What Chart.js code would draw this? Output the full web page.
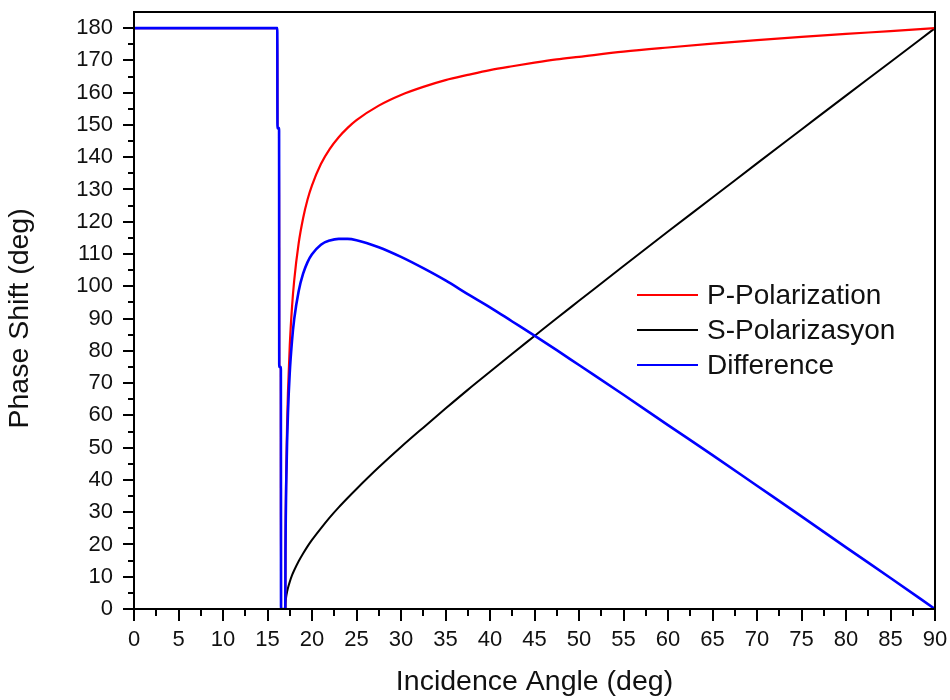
<!DOCTYPE html>
<html>
<head>
<meta charset="utf-8">
<script src="https://cdn.jsdelivr.net/npm/chart.js@4.4.0/dist/chart.umd.min.js"></script>
<style>
  html, body { margin: 0; padding: 0; background: #fff; }
  canvas { display: block; }
</style>
</head>
<body>
<canvas id="c" width="950" height="700"></canvas>
<script>
// Incidence angle (deg)
const angles = [0, 16.1, 16.12, 16.3, 16.32, 16.5, 16.52, 17.0, 17.02, 17.05, 17.1, 17.2, 17.3, 17.5, 17.75, 18, 18.5, 19, 19.5, 20, 21, 22, 23, 24, 25, 27.5, 30, 32.5, 35, 37.5, 40, 42.5, 45, 47.5, 50, 55, 60, 65, 70, 75, 80, 85, 90];
// Phase shifts (deg)
const pPolarization = [180, 180, 149, 149, 75, 75, 0, 0, 19.4, 30.3, 41.9, 57.0, 67.3, 81.6, 93.4, 101.8, 113.3, 121.1, 126.9, 131.3, 137.9, 142.6, 146.2, 149.1, 151.5, 156.0, 159.3, 161.8, 163.9, 165.5, 167.0, 168.2, 169.3, 170.3, 171.1, 172.7, 174.0, 175.2, 176.3, 177.3, 178.2, 179.1, 180];
const sPolarizasyon = [0, 0, 0, 0, 0, 0, 0, 0, 1.7, 2.7, 3.8, 5.3, 6.5, 8.4, 10.4, 12.0, 14.8, 17.2, 19.4, 21.4, 25.0, 28.4, 31.5, 34.4, 37.2, 43.9, 50.2, 56.2, 62.1, 67.9, 73.5, 79.1, 84.6, 90.1, 95.5, 106.3, 117.0, 127.5, 138.1, 148.6, 159.1, 169.5, 180];
const difference = [180, 180, 149, 149, 75, 75, 0, 0, 17.7, 27.6, 38.1, 51.7, 60.8, 73.2, 83.0, 89.8, 98.5, 103.9, 107.5, 109.9, 112.9, 114.2, 114.7, 114.7, 114.3, 112.1, 109.1, 105.6, 101.8, 97.6, 93.5, 89.1, 84.7, 80.2, 75.6, 66.4, 57.0, 47.7, 38.2, 28.7, 19.1, 9.6, 0];

// Tick labels
const xTicks = [0, 5, 10, 15, 20, 25, 30, 35, 40, 45, 50, 55, 60, 65, 70, 75, 80, 85, 90];
const yTicks = [0, 10, 20, 30, 40, 50, 60, 70, 80, 90, 100, 110, 120, 130, 140, 150, 160, 170, 180];

const seriesNames = ['P-Polarization', 'S-Polarizasyon', 'Difference'];
const seriesColors = ['#ff0000', '#000000', '#0000ff'];

const FONT = '"Liberation Sans", Arial, sans-serif';
const TXT = '#111111';

const toPts = arr => angles.map((a, i) => ({ x: a, y: arr[i] }));

const decor = {
  id: 'decor',
  afterDatasetsDraw(chart) {
    const { ctx, chartArea: a, scales: { x, y } } = chart;
    ctx.save();
    ctx.strokeStyle = '#000';
    ctx.lineWidth = 2;
    ctx.strokeRect(a.left, a.top, a.right - a.left, a.bottom - a.top);
    ctx.beginPath();
    xTicks.forEach((v, i) => {
      const px = Math.round(x.getPixelForValue(v));
      ctx.moveTo(px, a.bottom); ctx.lineTo(px, a.bottom + 12);
      if (i < xTicks.length - 1) {
        const pm = Math.round(x.getPixelForValue((v + xTicks[i + 1]) / 2));
        ctx.moveTo(pm, a.bottom); ctx.lineTo(pm, a.bottom + 7);
      }
    });
    yTicks.forEach((v, i) => {
      const py = Math.round(y.getPixelForValue(v));
      ctx.moveTo(a.left, py); ctx.lineTo(a.left - 11, py);
      if (i < yTicks.length - 1) {
        const pm = Math.round(y.getPixelForValue((v + yTicks[i + 1]) / 2));
        ctx.moveTo(a.left, pm); ctx.lineTo(a.left - 6, pm);
      }
    });
    ctx.stroke();

    // legend
    const ly = [295, 330, 365];
    ctx.font = '28px ' + FONT;
    ctx.textBaseline = 'middle';
    ctx.textAlign = 'left';
    seriesNames.forEach((name, i) => {
      ctx.strokeStyle = seriesColors[i];
      ctx.lineWidth = 2;
      ctx.beginPath();
      ctx.moveTo(637, ly[i]); ctx.lineTo(698, ly[i]);
      ctx.stroke();
      ctx.fillStyle = TXT;
      ctx.fillText(name, 707, ly[i] + 1);
    });
    ctx.restore();
  }
};

new Chart(document.getElementById('c'), {
  type: 'line',
  data: {
    datasets: [
      { label: seriesNames[0], data: toPts(pPolarization), borderColor: seriesColors[0], borderWidth: 2.2, order: 1 },
      { label: seriesNames[1], data: toPts(sPolarizasyon), borderColor: seriesColors[1], borderWidth: 2, order: 2 },
      { label: seriesNames[2], data: toPts(difference), borderColor: seriesColors[2], borderWidth: 2.6, order: 0 }
    ]
  },
  options: {
    responsive: false,
    animation: false,
    devicePixelRatio: 1,
    elements: { point: { radius: 0 }, line: { cubicInterpolationMode: 'monotone', fill: false } },
    layout: { autoPadding: false, padding: { left: 0, right: 15, top: 12, bottom: 0 } },
    plugins: { legend: { display: false }, tooltip: { enabled: false } },
    scales: {
      x: {
        type: 'linear', min: 0, max: 90,
        grid: { display: false, drawTicks: true, tickLength: 18 },
        border: { display: false },
        afterBuildTicks: s => { s.ticks = xTicks.map(v => ({ value: v })); },
        afterFit: s => { s.height = 91; },
        ticks: { autoSkip: false, maxRotation: 0, padding: 0, color: TXT, font: { family: FONT, size: 22 }, callback: v => String(v) },
        title: { display: true, text: 'Incidence Angle (deg)', color: TXT, font: { family: FONT, size: 28.5 }, padding: { top: 0, bottom: 1 } }
      },
      y: {
        type: 'linear', min: 0, max: 185,
        grid: { display: false, drawTicks: true, tickLength: 21 },
        border: { display: false },
        afterBuildTicks: s => { s.ticks = yTicks.map(v => ({ value: v })); },
        afterFit: s => { s.width = 134; },
        ticks: { autoSkip: false, padding: 0, color: TXT, font: { family: FONT, size: 22, lineHeight: 1.0 }, callback: v => String(v) },
        title: { display: true, text: 'Phase Shift (deg)  ', color: TXT, font: { family: FONT, size: 28.5 }, padding: { top: 3, bottom: 0 } }
      }
    }
  },
  plugins: [decor]
});
</script>
</body>
</html>
